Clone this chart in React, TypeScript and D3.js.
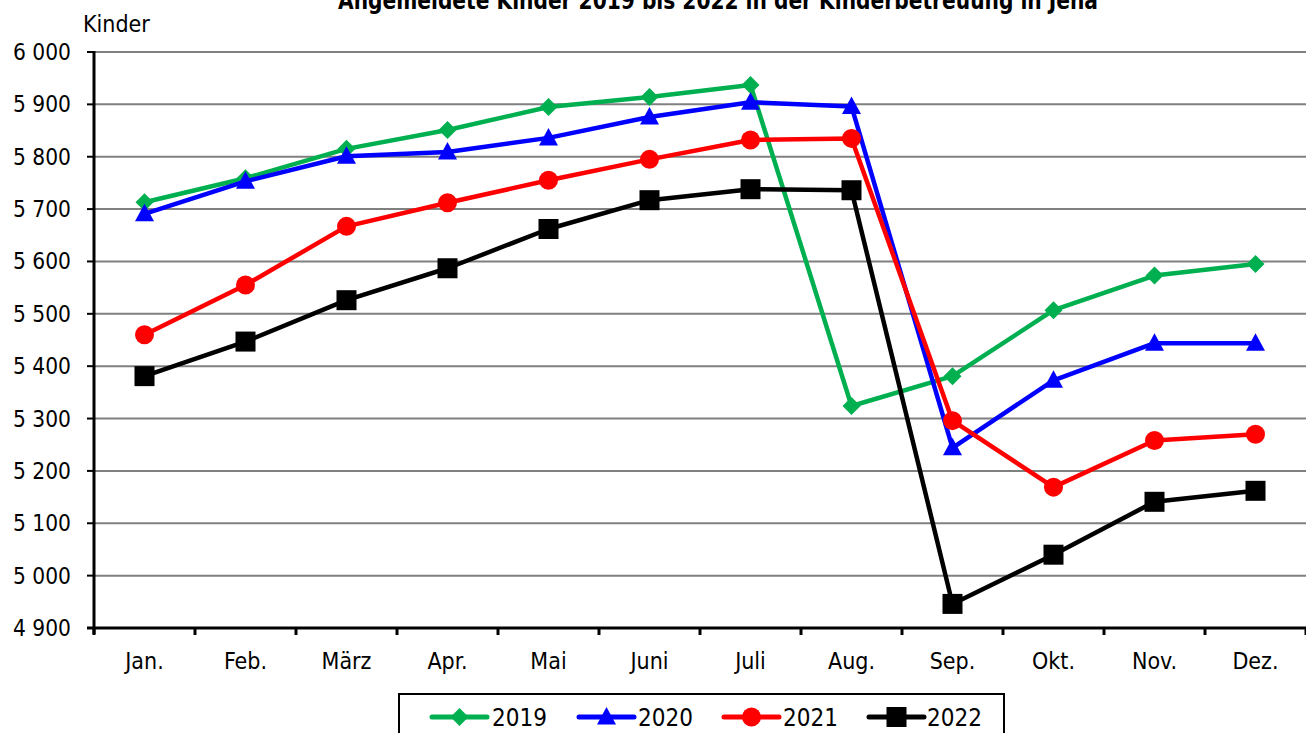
import React, { useEffect } from "react";
import * as d3 from "d3";

const months = ["Jan.", "Feb.", "März", "Apr.", "Mai", "Juni", "Juli", "Aug.", "Sep.", "Okt.", "Nov.", "Dez."];
const v2019 = [5713, 5759, 5815, 5851, 5895, 5914, 5937, 5324, 5381, 5507, 5573, 5595];
const v2020 = [5691, 5753, 5801, 5809, 5836, 5876, 5904, 5896, 5244, 5373, 5444, 5444];
const v2021 = [5460, 5555, 5667, 5712, 5755, 5795, 5832, 5835, 5296, 5169, 5258, 5270];
const v2022 = [5381, 5447, 5526, 5587, 5662, 5717, 5738, 5736, 4946, 5040, 5141, 5162];
const yTicks = [4900, 5000, 5100, 5200, 5300, 5400, 5500, 5600, 5700, 5800, 5900, 6000];
const title = "Angemeldete Kinder 2019 bis 2022 in der Kinderbetreuung in Jena";
const yTitle = "Kinder";

type Series = { name: string; values: number[]; color: string; symbol: string };
const series: Series[] = [
  { name: "2019", values: v2019, color: "#00b050", symbol: "diamond" },
  { name: "2020", values: v2020, color: "#0000ff", symbol: "triangle" },
  { name: "2021", values: v2021, color: "#ff0000", symbol: "circle" },
  { name: "2022", values: v2022, color: "#000000", symbol: "square" },
];

const W = 1306, H = 733;
const left = 94, right = 1306, top = 52, bottom = 628;
const font = "'DejaVu Sans Condensed', 'DejaVu Sans', sans-serif";

function Marker({ kind, x, y, color }: { kind: string; x: number; y: number; color: string }) {
  if (kind === "circle") return <circle cx={x} cy={y} r={9.5} fill={color} />;
  if (kind === "square") return <rect x={x - 10} y={y - 10} width={20} height={20} fill={color} />;
  if (kind === "diamond") return <path d={`M${x},${y - 9} L${x + 9},${y} L${x},${y + 9} L${x - 9},${y} Z`} fill={color} />;
  return <path d={`M${x},${y - 10} L${x + 9.5},${y + 7.5} L${x - 9.5},${y + 7.5} Z`} fill={color} />;
}

export default function App() {
  useEffect(() => {
    document.body.style.margin = "0";
  }, []);
  const x = d3.scaleBand<string>().domain(months).range([left, right]);
  const y = d3.scaleLinear().domain([4900, 6000]).range([bottom, top]);
  const cx = (m: string) => (x(m) as number) + x.bandwidth() / 2;
  const line = d3
    .line<number>()
    .x((_, i) => cx(months[i]))
    .y((d) => y(d));
  const tickXs = months.map((m) => x(m) as number).concat([right]);

  const legendItems = [
    { lx: 432, tx: 492 },
    { lx: 579, tx: 638 },
    { lx: 724, tx: 783 },
    { lx: 869, tx: 927 },
  ];

  return (
    <svg width={W} height={H} style={{ display: "block" }} fontFamily={font}>
      <rect x={0} y={0} width={W} height={H} fill="#fff" />
      <text x={718} y={9} textAnchor="middle" fontSize={25} fontWeight="bold" fill="#000" textLength={760} lengthAdjust="spacingAndGlyphs">{title}</text>
      <text x={83} y={32} fontSize={23} fill="#000">{yTitle}</text>
      {yTicks.map((t) => (
        <g key={t}>
          {t !== 4900 && <line x1={left} x2={right} y1={y(t)} y2={y(t)} stroke="#808080" strokeWidth={2} />}
          <line x1={87} x2={left} y1={y(t)} y2={y(t)} stroke="#000" strokeWidth={2} />
          <text x={71} y={y(t) + 8} textAnchor="end" fontSize={22.5} fill="#000">
            {d3.format(",")(t).replace(",", " ")}
          </text>
        </g>
      ))}
      <line x1={left} x2={left} y1={top - 1} y2={bottom + 6} stroke="#000" strokeWidth={3} />
      <line x1={87} x2={right} y1={bottom} y2={bottom} stroke="#000" strokeWidth={3} />
      {tickXs.map((tx, i) => (
        <line key={i} x1={tx} x2={tx} y1={bottom} y2={bottom + 7} stroke="#000" strokeWidth={3} />
      ))}
      {months.map((m) => (
        <text key={m} x={cx(m)} y={669} textAnchor="middle" fontSize={23} fill="#000">{m}</text>
      ))}
      {series.map((s) => (
        <g key={s.name}>
          <path d={line(s.values) || ""} fill="none" stroke={s.color} strokeWidth={4.5} strokeLinejoin="round" />
          {s.values.map((v, i) => (
            <Marker key={i} kind={s.symbol} x={cx(months[i])} y={y(v)} color={s.color} />
          ))}
        </g>
      ))}
      <rect x={399} y={694} width={605} height={50} fill="#fff" stroke="#000" strokeWidth={2} />
      {series.map((s, i) => (
        <g key={s.name}>
          <line x1={legendItems[i].lx} x2={legendItems[i].lx + 55} y1={717} y2={717} stroke={s.color} strokeWidth={5} strokeLinecap="round" />
          <Marker kind={s.symbol} x={legendItems[i].lx + 27.5} y={717} color={s.color} />
          <text x={legendItems[i].tx} y={726} fontSize={24} fill="#000">{s.name}</text>
        </g>
      ))}
    </svg>
  );
}
